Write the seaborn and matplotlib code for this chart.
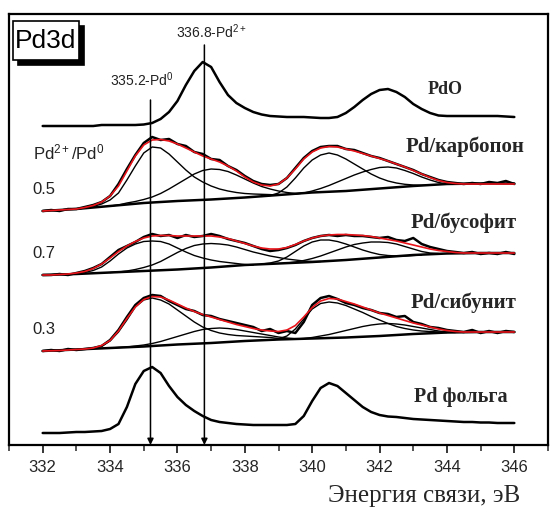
import numpy as np
import pandas as pd
import matplotlib
matplotlib.use("Agg")
import matplotlib.pyplot as plt
import seaborn as sns
from matplotlib.ticker import MultipleLocator
from matplotlib.patches import Rectangle

# ---------------- data (binding energy, eV; intensity, arb. units) ----------------
energy = np.arange(332.0, 346.001, 0.25)

pdo = [319, 319, 319, 319, 319, 319, 319, 320, 320, 320, 320, 320, 320.5, 322, 326, 333,
       344, 360, 374, 383, 378, 363, 350, 342, 337, 333, 330.5, 329, 328.5, 328, 328, 328,
       327.5, 327, 327, 328, 332, 338, 345, 351, 355, 356, 353, 348, 341, 336, 332, 329.5,
       329, 329, 329, 329, 329, 329, 329, 328.5, 328]

foil = [12, 12, 12, 12.5, 13, 13, 13.5, 14, 16, 21, 38, 61, 74, 78, 72, 59, 48, 40, 34, 29,
        25, 23, 22, 21, 20.5, 20, 20, 20, 20, 20, 21, 29, 44, 57, 62, 59, 52, 45, 38, 33, 30,
        28.5, 28, 27, 26, 25.5, 25, 24.5, 24, 23.5, 23, 23, 22.5, 22.5, 22, 22, 22]

# Pd/карбопон
carb_data = [234, 235, 234, 236, 236, 238, 240, 243, 249, 261, 276, 290, 302, 308, 305, 306,
             301, 299, 293, 291, 286, 285, 279, 275, 269, 264, 261, 260, 261, 267, 277, 287,
             294, 298, 299, 299, 296, 295, 292, 289, 287, 284, 281, 278, 275, 271, 268, 265,
             263, 262, 261, 262, 261, 263, 262, 264, 261]
carb_fit = [234, 234.5, 235, 235.5, 236, 237.5, 239.5, 243, 249, 259, 274, 289, 300, 305,
            305.5, 304, 301, 297, 293, 289, 286, 283, 279, 274, 268, 263, 260, 259, 261, 267,
            276, 286, 293, 297, 298.5, 298, 296, 294, 291.5, 289, 286.5, 284, 281, 278, 274.5,
            271, 267.5, 264.5, 262.5, 261.5, 261, 261, 261, 261, 261, 261, 261]
carb_bg_x = [332, 333, 334, 335, 336, 337, 338, 339, 340, 341, 342, 343, 344, 345, 346]
carb_bg = [234, 236, 239, 242, 244, 245.5, 247.5, 250, 252.5, 254, 256.5, 259, 261, 261.5, 261.5]
carb_c1 = [236, 237, 238.5, 241, 245, 252, 265, 279, 292, 298, 297, 291, 283, 275, 268, 263,
           259, 256, 254, 252.5, 251.5, 251, 250.7, 250.4, 249.8]
carb_c2 = [239, 240, 242, 243.5, 245.5, 248, 251.5, 256, 261, 266, 271, 274.5, 276, 275.5,
           273.5, 270, 266, 262, 258.5, 256, 254, 252.5, 251.5, 251.8]
carb_c3 = [248.6, 249.5, 252, 258, 267, 277, 285, 290, 292, 290, 286, 281, 276, 271, 267,
           264, 262, 260.7, 260, 259.7, 260]
carb_c4 = [251, 252, 254, 256.5, 259.5, 263, 266.5, 270, 273, 275.5, 277.5, 278, 277, 274.5,
           271.5, 268, 265, 262.5, 261]

# Pd/бусофит
bus_data = [170, 170, 171, 170, 172, 174, 177, 181, 188, 195, 199, 203, 208, 211, 209, 210,
            207, 210, 208, 209, 211, 209, 206, 204, 202, 199, 196, 194, 195, 197, 200, 204,
            207, 209, 210, 209, 210, 209, 209, 208, 207, 208, 205, 204, 207, 201, 198, 196,
            194, 193, 192, 193, 191, 192, 191, 193, 191]
bus_fit = [170, 170, 170.5, 171, 172, 173.5, 176.5, 181, 187, 193.5, 199, 203.5, 207, 209,
           209.5, 209.5, 209, 209, 209, 209, 209, 208, 206.5, 204, 201.5, 199, 197, 196, 196,
           197.5, 200.5, 204, 207, 209, 210, 210.5, 210.5, 210, 209.5, 208.5, 207, 205.5, 204,
           202, 200, 198, 196, 194.5, 193.5, 192.5, 192, 192, 192, 192, 192, 192, 192]
bus_bg_x = [332, 333, 334, 335, 336, 337, 338, 339, 340, 341, 342, 343, 344, 345, 346]
bus_bg = [170, 171, 172.5, 174, 175.5, 177.5, 180, 181.5, 183, 185, 187.5, 190, 191.5, 192, 192]
bus_c1 = [171.5, 172.5, 174.5, 178, 184, 191, 197, 201, 203.5, 204, 203.5, 201, 197, 193,
          189.5, 187, 185, 183.5, 182.5, 181.5, 180.5, 180]
bus_c2 = [172.5, 173, 174, 175.5, 177.5, 180, 183.5, 188, 192.5, 196.5, 199.5, 201, 201.5,
          201, 200, 198, 195.5, 193, 191, 189, 187.5, 186, 185, 184, 183.5, 183.5]
bus_c3 = [181, 182, 184, 188, 193.5, 199, 203, 205, 205, 203.5, 201, 198, 195, 192.5, 190.5,
          189.5, 189, 189, 189.5, 190]
bus_c4 = [182, 183, 184.5, 186.5, 189, 192, 195, 198, 200.5, 202, 203, 203, 202.5, 201, 198.5,
          196, 193.5, 192, 191.5]

# Pd/сибунит
sib_data = [94, 95, 94, 96, 95, 96, 97, 99, 105, 115, 128, 140, 147, 150, 149, 144, 140, 136,
            134, 130, 129, 126, 124, 122, 120, 118, 114, 116, 112, 114, 112, 123, 140, 147, 149,
            146, 142, 140, 137, 135, 132, 131, 128, 129, 123, 121, 118, 117, 115, 114, 113, 115,
            112, 114, 112, 114, 113]
sib_fit = [94, 94.25, 94.5, 95, 95.5, 96, 97, 99.5, 104.5, 114, 126.5, 138, 145.5, 148.5, 148,
           145, 141, 137, 133.5, 130.5, 128, 125.5, 123, 120.5, 118.5, 116.5, 115, 114, 113.5,
           115, 119.5, 128, 137.5, 144, 146.5, 146, 143.5, 141, 138, 135, 132, 129.5, 127,
           124.5, 122, 120, 118, 116, 114.5, 113.5, 113, 113, 113, 113, 113, 113, 113]
sib_bg_x = [332, 333, 334, 335, 336, 337, 338, 339, 340, 341, 342, 343, 344, 345, 346]
sib_bg = [94, 95.5, 97, 98.5, 100.5, 102, 104, 105.5, 106.5, 107.5, 109, 111, 112.5, 113, 113]
sib_c1 = [95.5, 96, 97, 99, 104, 113, 125, 138, 145, 147, 145, 141, 135, 129, 123, 118, 114.5,
          112, 110.5, 109.5, 109, 108.5, 108, 107.5, 106.5, 106]
sib_c2 = [97, 97.5, 98, 99, 100, 101.5, 103.5, 106, 108.5, 111, 113.5, 115.5, 116.5, 117,
          116.5, 115.5, 114, 112.5, 111, 109.5, 108, 107, 106.2, 106]
sib_c3 = [105, 106, 109, 116, 126, 136, 141.5, 143, 142, 139.5, 136, 132.5, 128.5, 125, 121.5,
          118.5, 116.5, 115, 114, 113.5, 113, 112.5]
sib_c4 = [106, 106.5, 107.5, 109, 110.5, 112.5, 114.5, 116.5, 118.5, 120, 121, 121.5, 121, 120,
          118.5, 117, 115.5, 114, 113, 112.5]

# start energies of the fitted components (0.25 eV spacing)
carb_starts = [333.0, 334.0, 338.5, 339.5]
bus_starts = [333.0, 334.0, 338.5, 339.25]
sib_starts = [333.0, 334.0, 338.75, 339.5]

sample_names = ["Pd/карбопон", "Pd/бусофит", "Pd/сибунит"]
ratios = ["0.5", "0.7", "0.3"]
ref_names = ["PdO", "Pd фольга"]
peak_pos = [335.2, 336.8]
peak_labels = [r"335.2-Pd$^{0}$", r"336.8-Pd$^{2+}$"]
x_ticks = [332, 334, 336, 338, 340, 342, 344, 346]

# ---------------- style ----------------
sns.set_style("white")
plt.rcParams["font.family"] = ["Liberation Sans", "DejaVu Sans"]
plt.rcParams["mathtext.fontset"] = "custom"
plt.rcParams["mathtext.rm"] = "Liberation Sans"
plt.rcParams["mathtext.it"] = "Liberation Sans:italic"
plt.rcParams["mathtext.bf"] = "Liberation Sans:bold"

fig = plt.figure(figsize=(5.51, 5.12), dpi=100)
ax = fig.add_axes([9 / 551, 67 / 512, 539 / 551, 431 / 512])


def draw(x, y, color="black", lw=1.0, z=2):
    df = pd.DataFrame({"E": np.asarray(x, dtype=float), "I": np.asarray(y, dtype=float)})
    sns.lineplot(data=df, x="E", y="I", ax=ax, color=color, lw=lw, estimator=None,
                 sort=False, zorder=z, legend=False)


def comp_x(start, vals):
    return start + 0.25 * np.arange(len(vals))


# reference spectra
draw(energy, pdo, lw=1.8)
draw(energy, foil, lw=1.8)

samples = [
    (carb_data, carb_fit, carb_bg_x, carb_bg, [carb_c1, carb_c2, carb_c3, carb_c4], carb_starts),
    (bus_data, bus_fit, bus_bg_x, bus_bg, [bus_c1, bus_c2, bus_c3, bus_c4], bus_starts),
    (sib_data, sib_fit, sib_bg_x, sib_bg, [sib_c1, sib_c2, sib_c3, sib_c4], sib_starts),
]
for data, fit, bgx, bg, comps, starts in samples:
    draw(bgx, bg, lw=1.8, z=2)
    for c, s in zip(comps, starts):
        draw(comp_x(s, c), c, lw=1.0, z=2)
    draw(energy, data, lw=1.8, z=3)
    draw(energy, fit, color="#e8141a", lw=1.2, z=4)

# marker lines with arrows
tops = [345, 400]
for xp, top in zip(peak_pos, tops):
    ax.annotate("", xy=(xp, 0), xytext=(xp, top),
                arrowprops=dict(arrowstyle="-|>", color="black", lw=1.1,
                                mutation_scale=9, shrinkA=0, shrinkB=0), zorder=5)
ax.text(334.95, 365, peak_labels[0], ha="center", va="center", fontsize=10, color="#222222")
ax.text(337.0, 413, peak_labels[1], ha="center", va="center", fontsize=10, color="#222222")

# curve labels
serif = ["Liberation Serif", "DejaVu Serif"]
ax.text(343.95, 356, ref_names[0], ha="center", va="center", fontsize=13,
        family=serif, fontweight="bold")
ax.text(344.55, 298, sample_names[0], ha="center", va="center", fontsize=15,
        family=serif, fontweight="bold")
ax.text(344.5, 222, sample_names[1], ha="center", va="center", fontsize=15,
        family=serif, fontweight="bold")
ax.text(344.5, 142, sample_names[2], ha="center", va="center", fontsize=15,
        family=serif, fontweight="bold")
ax.text(344.4, 48, ref_names[1], ha="center", va="center", fontsize=14.5,
        family=serif, fontweight="bold")

# ratio labels
ax.text(0.044, 293 / 431, r"Pd$^{2+}$/Pd$^{0}$", transform=ax.transAxes, ha="left",
        va="center", fontsize=12, color="#222222")
for r, h in zip(ratios, [256, 192, 116]):
    ax.text(0.044, h / 431, r, transform=ax.transAxes, ha="left", va="center",
            fontsize=12, color="#222222")

# Pd3d boxed label with drop shadow
bx0, by0, bw, bh = 0.0074, 0.893, 0.1225, 0.0905
ax.add_patch(Rectangle((bx0 + 0.0093, by0 - 0.0116), bw, bh, transform=ax.transAxes,
                       facecolor="black", edgecolor="black", lw=1.2, zorder=6))
ax.add_patch(Rectangle((bx0, by0), bw, bh, transform=ax.transAxes,
                       facecolor="white", edgecolor="black", lw=1.2, zorder=7))
ax.text(bx0 + bw / 2, by0 + bh / 2, "Pd3d", transform=ax.transAxes, ha="center",
        va="center", fontsize=19, color="black", zorder=8)

# axes
ax.set_xlim(331, 347)
ax.set_ylim(0, 431)
ax.set_xticks(x_ticks)
ax.set_xticklabels([str(t) for t in x_ticks])
ax.xaxis.set_minor_locator(MultipleLocator(1))
ax.set_yticks([])
ax.set_xlabel("")
ax.set_ylabel("")
ax.tick_params(axis="x", which="major", direction="out", length=6, width=1.3,
               labelsize=12, pad=5, bottom=True)
ax.tick_params(axis="x", which="minor", direction="out", length=4, width=1.1, bottom=True)
for sp in ax.spines.values():
    sp.set_visible(True)
    sp.set_linewidth(1.6)
    sp.set_color("black")

fig.text(520 / 551, 16 / 512, "Энергия связи, эВ", ha="right", va="center", fontsize=18,
         family=serif)

fig.savefig("out.png", dpi=100)
